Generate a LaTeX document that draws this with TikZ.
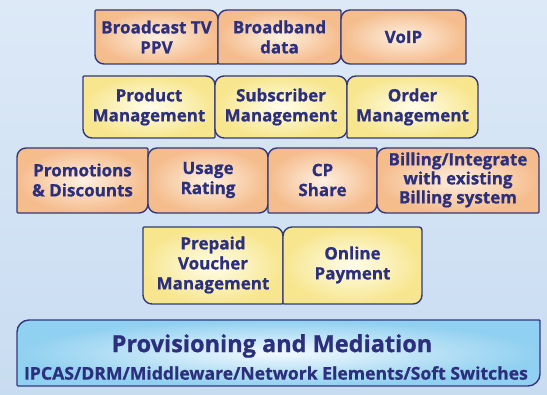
\documentclass[tikz,border=0pt]{standalone}
\usepackage{fontspec}
\setmainfont{Open Sans}[BoldFeatures={FakeBold=0.8}]
\usetikzlibrary{calc}
\definecolor{navy}{HTML}{33387E}
\definecolor{txt}{HTML}{2C2F7C}
\definecolor{orin}{HTML}{FEF0E2}
\definecolor{orout}{HTML}{F5BC8C}
\definecolor{yein}{HTML}{FFFDEA}
\definecolor{yeout}{HTML}{F7E68E}
\definecolor{bgtop}{HTML}{DDE9F7}
\definecolor{bgbot}{HTML}{C8DCF1}
\definecolor{blin}{HTML}{F2F9FE}
\definecolor{blout}{HTML}{90D0F0}
% x1 ytop x2 ybot rTL rTR rBR rBL style  (pixel coords, y downward)
\newcommand\rbox[9]{%
  \path[#9] (#1+#5, 395-#2) -- (#3-#6, 395-#2)
    arc[start angle=90, end angle=0, radius=#6] -- (#3, 395-#4+#7)
    arc[start angle=0, end angle=-90, radius=#7] -- (#1+#8, 395-#4)
    arc[start angle=270, end angle=180, radius=#8] -- (#1, 395-#2-#5)
    arc[start angle=180, end angle=90, radius=#5] -- cycle;}
\tikzset{
  orbox/.style={draw=navy, line width=1.4pt, inner color=orin, outer color=orout},
  yebox/.style={draw=navy, line width=1.4pt, inner color=yein, outer color=yeout},
  blbox/.style={draw=navy, line width=1.4pt, inner color=blin, outer color=blout},
  lbl/.style={text=txt, font=\fontsize{17}{20}\selectfont\bfseries, align=center, inner sep=0pt},
}
\begin{document}
\begin{tikzpicture}[x=1pt, y=1pt]
\useasboundingbox (0,0) rectangle (547,395);
\shade[top color=bgtop, bottom color=bgbot] (0,0) rectangle (547,395);
% row 1
\rbox{95}{10}{218}{64}{1}{9}{1}{9}{orbox}
\rbox{218}{10}{341}{64}{9}{1}{9}{1}{orbox}
\rbox{341}{10}{466}{64}{9}{9}{1}{9}{orbox}
\node[lbl] (tv) at (156.5, 395-37) {Broadcast TV\\PPV};
\node[lbl] (bb) at (279.5, 395-37) {Broadband\\data};
\node[lbl] (voip) at (403.5, 395-37) {VoIP};
% row 2
\rbox{83}{76}{215}{138}{1}{9}{1}{9}{yebox}
\rbox{215}{76}{347}{138}{9}{9}{9}{9}{yebox}
\rbox{347}{76}{478}{138}{9}{9}{9}{1}{yebox}
\node[lbl] (pm) at (149, 395-107) {Product\\Management};
\node[lbl] (sm) at (281, 395-107) {Subscriber\\Management};
\node[lbl] (om) at (412.5, 395-107) {Order\\Management};
% row 3
\rbox{17}{148}{148}{213}{9}{1}{9}{1}{orbox}
\rbox{148}{148}{268}{213}{9}{9}{9}{9}{orbox}
\rbox{268}{148}{377}{213}{9}{1}{9}{1}{orbox}
\rbox{377}{148}{539}{213}{9}{9}{1}{9}{orbox}
\node[lbl] (pd) at (82.5, 395-180) {Promotions\\\& Discounts};
\node[lbl] (ur) at (208, 395-180) {Usage\\Rating};
\node[lbl] (cp) at (322.5, 395-180) {CP\\Share};
\node[lbl, font=\fontsize{17}{19}\selectfont\bfseries] (bi) at (458, 395-180) {Billing/Integrate\\with existing\\Billing system};
% row 4
\rbox{143}{227}{283}{304}{1}{9}{1}{9}{yebox}
\rbox{283}{227}{422}{304}{9}{3}{9}{1}{yebox}
\node[lbl] (pv) at (213, 395-265) {Prepaid\\Voucher\\Management};
\node[lbl] (op) at (352.5, 395-265) {Online\\Payment};
% bottom
\rbox{17}{320}{540}{386}{12}{1}{12}{1}{blbox}
\node[text=txt, font=\fontsize{23.5}{26}\selectfont\bfseries, inner sep=0pt] (pm2) at (272, 395-346) {Provisioning and Mediation};
\node[text=txt, font=\fontsize{17.6}{19}\selectfont\bfseries, inner sep=0pt] (ip) at (276, 395-373) {IPCAS/DRM/Middleware/Network Elements/Soft Switches};
\end{tikzpicture}
\end{document}
